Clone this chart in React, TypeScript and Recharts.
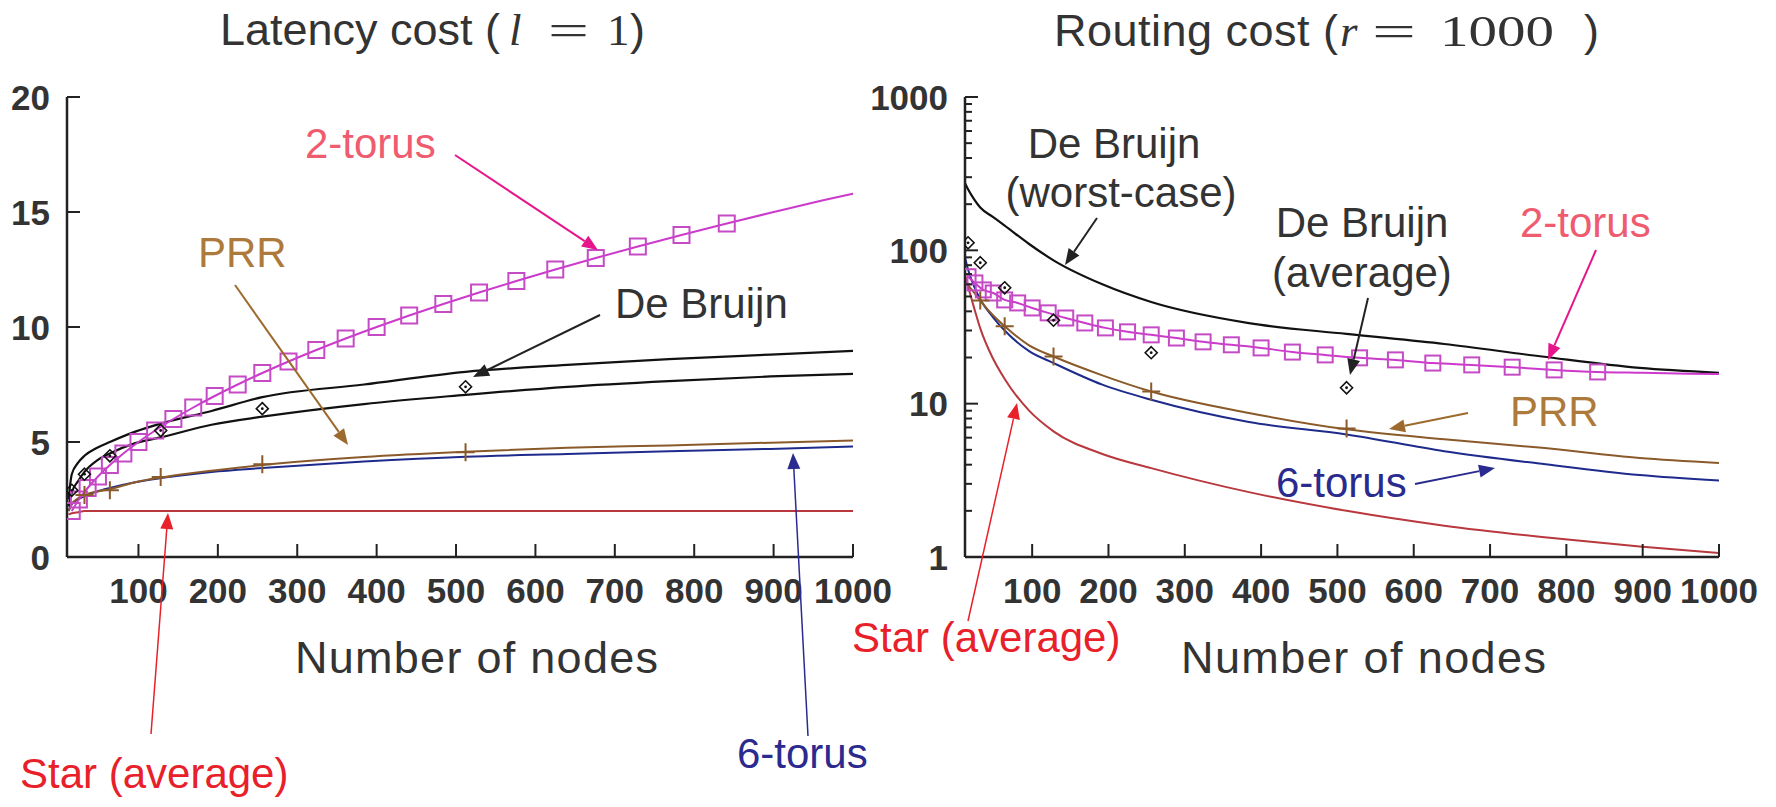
import React from 'react';
import { ComposedChart, Line, XAxis, YAxis } from 'recharts';

// ---- values ----
const curveNodes = [12, 16, 24, 32, 48, 64, 96, 128, 192, 256, 384, 512, 640, 768, 896, 1000];
const squareNodes = [16, 25, 36, 49, 64, 81, 100, 121, 144, 169, 196, 225, 256, 289, 324, 361, 400, 441, 484, 529, 576, 625, 676, 729, 784, 841];
const torusTailNodes = [900, 961, 1000];
const pow2Nodes = [16, 32, 64, 128, 256, 512];
const prrMarkNodes = [32, 64, 128, 256, 512];
const xTicks = [100, 200, 300, 400, 500, 600, 700, 800, 900, 1000];

// latency cost (l = 1)
const latTicks = [0, 5, 10, 15, 20];
const latTorus2 = [2.0, 2.5, 3.0, 3.5, 4.0, 4.5, 5.0, 5.5, 6.0, 6.5, 7.0, 7.5, 8.0, 8.5, 9.0, 9.5, 10.0, 10.5, 11.0, 11.5, 12.0, 12.5, 13.0, 13.5, 14.0, 14.5];
const latTorus2Tail = [15.0, 15.5, 15.8];
const latDeBruijnWorst = [2.5, 3.6, 4.1, 4.4, 4.75, 5.0, 5.45, 5.8, 6.35, 6.95, 7.5, 8.05, 8.35, 8.6, 8.8, 8.96];
const latDeBruijnAvg = [2.2, 2.8, 3.3, 3.7, 4.2, 4.5, 4.95, 5.2, 5.75, 6.1, 6.65, 7.05, 7.4, 7.65, 7.85, 7.96];
const latDeBruijnMarks = [2.9, 3.6, 4.4, 5.5, 6.45, 7.4];
const latPrr = [2.0, 2.3, 2.55, 2.7, 2.85, 2.95, 3.25, 3.45, 3.75, 4.0, 4.35, 4.58, 4.75, 4.85, 4.97, 5.06];
const latPrrMarks = [2.7, 2.9, 3.48, 4.03, 4.55];
const latTorus6 = [2.0, 2.3, 2.5, 2.65, 2.85, 3.0, 3.25, 3.43, 3.7, 3.87, 4.15, 4.36, 4.48, 4.6, 4.7, 4.8];
const latStar = [1.85, 1.9, 1.95, 2.0, 2.0, 2.0, 2.0, 2.0, 2.0, 2.0, 2.0, 2.0, 2.0, 2.0, 2.0, 2.0];

// routing cost (r = 1000), log scale
const rtTicks = [1, 2, 3, 4, 5, 6, 7, 8, 9, 10, 20, 30, 40, 50, 60, 70, 80, 90, 100, 200, 300, 400, 500, 600, 700, 800, 900, 1000];
const rtMajor = [1, 10, 100, 1000];
const rtTorus2 = [67.3, 61.3, 55.2, 52.7, 47.5, 45.4, 42.1, 39.1, 36.2, 33.6, 31.2, 29.4, 28.1, 26.8, 25.3, 24.2, 23.1, 21.7, 20.8, 19.9, 19.3, 18.4, 17.9, 17.3, 16.6, 16.1];
const rtTorus2Tail = [15.9, 15.7, 15.6];
const rtDeBruijnWorst = [274, 250, 215, 190, 166, 145, 110, 86, 60, 46, 33.5, 28.5, 24.5, 20.3, 17.1, 15.9];
const rtDeBruijnMarks = [112, 83, 57, 35, 21.5, 12.7];
const rtPrr = [67, 60, 53, 47, 38, 32, 24, 20.3, 15.3, 12, 8.7, 6.8, 5.85, 5.15, 4.42, 4.1];
const rtPrrMarks = [47, 32, 20.3, 12, 6.9];
const rtTorus6 = [90, 75, 58, 48, 37, 30, 22, 18.4, 13.3, 10.6, 7.6, 6.3, 4.9, 4.05, 3.42, 3.15];
const rtStar = [68, 58, 42, 31, 20, 14.5, 9.0, 6.6, 4.7, 3.8, 2.65, 2.0, 1.6, 1.35, 1.17, 1.06];

const H = 807;
const PLOT_TOP = 97;
const PLOT_BOTTOM = 557;
const FONT = '"Liberation Sans", Arial, Helvetica, sans-serif';
const SERIF = '"Liberation Serif", "Times New Roman", serif';
const AXIS = '#222';
const TEXT = '#333';
const TICK = 13;

const C_TORUS2 = '#cc3acc';
const C_SQUARE = '#c54bc5';
const C_DEBRUIJN = '#111';
const C_PRR = '#8a5a2a';
const C_TORUS6 = '#1e2a8c';
const C_STAR = '#b8383e';

const pts = (xs: number[], ys: number[]) => xs.map((n, i) => ({ n, v: ys[i] }));

const ok = (p: any) => Number.isFinite(p.cx) && Number.isFinite(p.cy);

const squareDot = (size: number) => (p: any) =>
  ok(p) ? (
    <rect key={`sq-${p.index}`} x={p.cx - size / 2} y={p.cy - size / 2} width={size} height={size}
      fill="none" stroke={C_SQUARE} strokeWidth={2} />
  ) : <g key={`sq-${p.index}`} />;

const plusDot = (size: number) => (p: any) =>
  ok(p) ? (
    <path key={`pl-${p.index}`} d={`M${p.cx - size / 2},${p.cy}h${size}M${p.cx},${p.cy - size / 2}v${size}`}
      stroke={C_PRR} strokeWidth={2} fill="none" />
  ) : <g key={`pl-${p.index}`} />;

const diamondDot = (size: number) => (p: any) =>
  ok(p) ? (
    <g key={`dm-${p.index}`}>
      <path d={`M${p.cx},${p.cy - size / 2}L${p.cx + size / 2},${p.cy}L${p.cx},${p.cy + size / 2}L${p.cx - size / 2},${p.cy}Z`}
        fill="none" stroke="#111" strokeWidth={1.6} />
      <circle cx={p.cx} cy={p.cy} r={1.4} fill="#111" />
    </g>
  ) : <g key={`dm-${p.index}`} />;

const BottomTick = (p: any) => (
  <g>
    <line x1={p.x} x2={p.x} y1={p.y} y2={p.y - TICK} stroke={AXIS} strokeWidth={2} />
    <text x={p.x} y={p.y + 46} textAnchor="middle" fontFamily={FONT} fontWeight="bold" fontSize={35} fill={TEXT}>
      {p.payload.value}
    </text>
  </g>
);

const TopTick = (p: any) => (
  <line x1={p.x} x2={p.x} y1={p.y} y2={p.y + TICK} stroke={AXIS} strokeWidth={2} />
);

const makeLeftTick = (majors: number[] | null) => (p: any) => {
  const v = p.payload.value;
  const major = !majors || majors.includes(v);
  return (
    <g>
      <line x1={p.x} x2={p.x + (major ? TICK : 7)} y1={p.y} y2={p.y} stroke={AXIS} strokeWidth={2} />
      {major && (
        <text x={p.x - 17} y={p.y} dy="0.36em" textAnchor="end" fontFamily={FONT} fontWeight="bold" fontSize={35} fill={TEXT}>
          {v}
        </text>
      )}
    </g>
  );
};

const makeRightTick = (majors: number[] | null) => (p: any) => {
  const major = !majors || majors.includes(p.payload.value);
  return <line x1={p.x} x2={p.x - (major ? TICK : 7)} y1={p.y} y2={p.y} stroke={AXIS} strokeWidth={2} />;
};

interface Series {
  data: { n: number; v: number }[];
  color: string;
  width?: number;
  dot?: any;
  noLine?: boolean;
}

interface PanelProps {
  left: number;
  width: number;
  plotLeft: number;
  plotRight: number;
  xDomain: [number, number];
  yDomain: [number, number];
  yTicks: number[];
  yMajor: number[] | null;
  log?: boolean;
  series: Series[];
}

const Panel: React.FC<PanelProps> = ({ left, width, plotLeft, plotRight, xDomain, yDomain, yTicks, yMajor, log, series }) => {
  const axisLine = { stroke: AXIS, strokeWidth: 2.5 };
  return (
    <div style={{ position: 'absolute', left, top: 0 }}>
      <ComposedChart
        width={width}
        height={H}
        margin={{ top: PLOT_TOP, right: width - plotRight, bottom: H - PLOT_BOTTOM - 40, left: plotLeft - 60 }}
      >
        <XAxis dataKey="n" type="number" domain={xDomain} ticks={xTicks} interval={0} allowDataOverflow
          height={40} tickSize={0} tickMargin={0} tickLine={false} axisLine={axisLine} tick={BottomTick} />
        <XAxis xAxisId="top" orientation="top" dataKey="n" type="number" domain={xDomain} ticks={xTicks} interval={0}
          allowDataOverflow height={0} tickSize={0} tickMargin={0} tickLine={false} axisLine={axisLine} tick={TopTick} />
        <YAxis type="number" domain={yDomain} scale={log ? 'log' : 'linear'} ticks={yTicks} interval={0} allowDataOverflow
          width={60} tickSize={0} tickMargin={0} tickLine={false} axisLine={axisLine} tick={makeLeftTick(yMajor)} />
        <YAxis yAxisId="right" orientation="right" type="number" domain={yDomain} scale={log ? 'log' : 'linear'} ticks={yTicks}
          interval={0} allowDataOverflow width={0} tickSize={0} tickMargin={0} tickLine={false} axisLine={axisLine}
          tick={makeRightTick(yMajor)} />
        {series.map((s, i) => (
          <Line
            key={i}
            data={s.data}
            dataKey="v"
            type="monotone"
            stroke={s.noLine ? 'none' : s.color}
            strokeWidth={s.width ?? 2}
            dot={s.dot ?? false}
            activeDot={false}
            isAnimationActive={false}
          />
        ))}
      </ComposedChart>
    </div>
  );
};

const Arrow = ({ x1, y1, x2, y2, color, w = 2 }: any) => {
  const a = Math.atan2(y2 - y1, x2 - x1);
  const L = 16, half = 6.5;
  const bx = x2 - L * Math.cos(a), by = y2 - L * Math.sin(a);
  const px = -Math.sin(a) * half, py = Math.cos(a) * half;
  return (
    <g>
      <line x1={x1} y1={y1} x2={bx} y2={by} stroke={color} strokeWidth={w} />
      <path d={`M${x2},${y2}L${bx + px},${by + py}L${bx - px},${by - py}Z`} fill={color} />
    </g>
  );
};

const Label = ({ x, y, color, anchor = 'start', children }: any) => (
  <text x={x} y={y} fill={color} fontFamily={FONT} fontSize={42} textAnchor={anchor}>{children}</text>
);

const Overlay = () => (
  <svg width={1776} height={H} style={{ position: 'absolute', left: 0, top: 0, pointerEvents: 'none' }}>
    {/* titles */}
    <g fill={TEXT} fontSize={45}>
      <text x={220} y={45} fontFamily={FONT} textLength={280} lengthAdjust="spacing">Latency cost (</text>
      <text x={509} y={45} fontFamily={SERIF} fontStyle="italic">l</text>
      <text x={548} y={45} fontFamily={SERIF} textLength={41} lengthAdjust="spacingAndGlyphs">=</text>
      <text x={607} y={45} fontFamily={SERIF}>1</text>
      <text x={630} y={45} fontFamily={FONT}>)</text>

      <text x={1054} y={46} fontFamily={FONT} textLength={284} lengthAdjust="spacing">Routing cost (</text>
      <text x={1340} y={46} fontFamily={SERIF} fontStyle="italic">r</text>
      <text x={1372} y={46} fontFamily={SERIF} textLength={44} lengthAdjust="spacingAndGlyphs">=</text>
      <text x={1440} y={46} fontFamily={SERIF} textLength={114} lengthAdjust="spacingAndGlyphs">1000</text>
      <text x={1584} y={46} fontFamily={FONT}>)</text>

      <text x={295} y={673} fontFamily={FONT} textLength={363} lengthAdjust="spacing">Number of nodes</text>
      <text x={1181} y={673} fontFamily={FONT} textLength={365} lengthAdjust="spacing">Number of nodes</text>
    </g>

    {/* left panel annotations */}
    <Label x={305} y={158} color="#ef5b6f">2-torus</Label>
    <Arrow x1={455} y1={155} x2={598} y2={250} color="#e5168b" />
    <Label x={198} y={267} color="#ad7a3c">PRR</Label>
    <Arrow x1={235} y1={285} x2={348} y2={445} color="#9c6a2c" />
    <Label x={615} y={318} color={TEXT}>De Bruijn</Label>
    <Arrow x1={600} y1={315} x2={473} y2={377} color="#222" />
    <Label x={20} y={788} color="#e8202a">Star (average)</Label>
    <Arrow x1={151} y1={734} x2={168} y2={513} color="#e8202a" w={1.5} />
    <Label x={737} y={768} color="#2b2b8f">6-torus</Label>
    <Arrow x1={808} y1={736} x2={793} y2={453} color="#2b2b8f" w={1.5} />

    {/* right panel annotations */}
    <Label x={1114} y={158} color={TEXT} anchor="middle">De Bruijn</Label>
    <Label x={1121} y={207} color={TEXT} anchor="middle">(worst-case)</Label>
    <Arrow x1={1097} y1={218} x2={1065} y2={265} color="#222" />
    <Label x={1362} y={237} color={TEXT} anchor="middle">De Bruijn</Label>
    <Label x={1362} y={287} color={TEXT} anchor="middle">(average)</Label>
    <Arrow x1={1368} y1={298} x2={1350} y2={375} color="#222" />
    <Label x={1520} y={237} color="#ef5b6f">2-torus</Label>
    <Arrow x1={1596} y1={250} x2={1548} y2={360} color="#e5168b" />
    <Label x={1510} y={426} color="#ad7a3c">PRR</Label>
    <Arrow x1={1468} y1={413} x2={1389} y2={429} color="#9c6a2c" />
    <Label x={1276} y={497} color="#2b2b8f">6-torus</Label>
    <Arrow x1={1415} y1={484} x2={1495} y2={468} color="#2b2b8f" />
    <Label x={852} y={652} color="#e8202a">Star (average)</Label>
    <Arrow x1={968} y1={621} x2={1017} y2={403} color="#e8202a" w={1.5} />
  </svg>
);

export default function App() {
  const leftSeries: Series[] = [
    { data: pts(curveNodes, latStar), color: C_STAR },
    { data: pts(curveNodes, latTorus6), color: C_TORUS6 },
    { data: pts(curveNodes, latPrr), color: C_PRR },
    { data: pts(curveNodes, latDeBruijnAvg), color: C_DEBRUIJN, width: 2.2 },
    { data: pts(curveNodes, latDeBruijnWorst), color: C_DEBRUIJN, width: 2.2 },
    { data: pts([...squareNodes, ...torusTailNodes], [...latTorus2, ...latTorus2Tail]), color: C_TORUS2 },
    { data: pts(squareNodes, latTorus2), color: C_SQUARE, noLine: true, dot: squareDot(16) },
    { data: pts(pow2Nodes, latDeBruijnMarks), color: C_DEBRUIJN, noLine: true, dot: diamondDot(12) },
    { data: pts(prrMarkNodes, latPrrMarks), color: C_PRR, noLine: true, dot: plusDot(18) },
  ];
  const rightSeries: Series[] = [
    { data: pts(curveNodes, rtStar), color: C_STAR },
    { data: pts(curveNodes, rtTorus6), color: C_TORUS6 },
    { data: pts(curveNodes, rtPrr), color: C_PRR },
    { data: pts(curveNodes, rtDeBruijnWorst), color: C_DEBRUIJN, width: 2.2 },
    { data: pts([...squareNodes, ...torusTailNodes], [...rtTorus2, ...rtTorus2Tail]), color: C_TORUS2 },
    { data: pts(squareNodes, rtTorus2), color: C_SQUARE, noLine: true, dot: squareDot(15) },
    { data: pts(pow2Nodes, rtDeBruijnMarks), color: C_DEBRUIJN, noLine: true, dot: diamondDot(12) },
    { data: pts(prrMarkNodes, rtPrrMarks), color: C_PRR, noLine: true, dot: plusDot(18) },
  ];

  return (
    <div style={{ position: 'absolute', left: 0, top: 0, width: 1776, height: H, background: '#fff', overflow: 'hidden' }}>
      <Panel left={0} width={900} plotLeft={67} plotRight={853} xDomain={[10, 1000]} yDomain={[0, 20]}
        yTicks={latTicks} yMajor={null} series={leftSeries} />
      <Panel left={840} width={936} plotLeft={125} plotRight={879} xDomain={[12, 1000]} yDomain={[1, 1000]}
        yTicks={rtTicks} yMajor={rtMajor} log series={rightSeries} />
      <Overlay />
    </div>
  );
}
